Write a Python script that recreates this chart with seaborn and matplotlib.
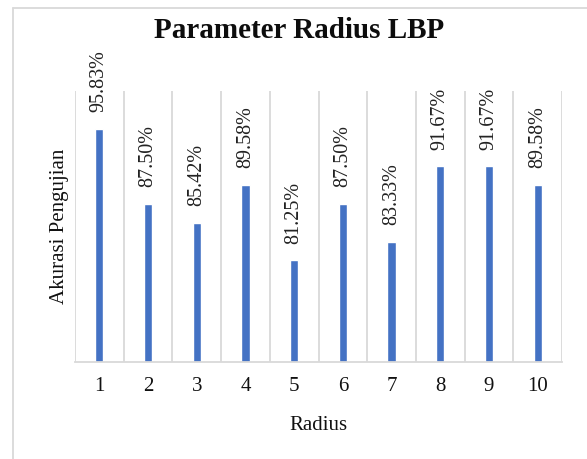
import matplotlib
matplotlib.use('Agg')
import matplotlib.pyplot as plt
from matplotlib.lines import Line2D
import numpy as np
import pandas as pd
import seaborn as sns

radius = ['1', '2', '3', '4', '5', '6', '7', '8', '9', '10']
accuracy = [95.83, 87.50, 85.42, 89.58, 81.25, 87.50, 83.33, 91.67, 91.67, 89.58]

sns.set_theme(style='white')
plt.rcParams['font.family'] = ['Liberation Serif', 'DejaVu Serif']

W, H = 587, 459
fig = plt.figure(figsize=(W / 100, H / 100), dpi=100)
ax = fig.add_axes([75 / W, 1 - 362 / H, (562 - 75) / W, (362 - 91) / H])

df = pd.DataFrame({'radius': radius, 'accuracy': accuracy})
sns.barplot(data=df, x='radius', y='accuracy', order=radius, color='#4472C4',
            saturation=1, width=0.17, ax=ax)

ax.set_ylim(70, 100)
ax.set_xlim(-0.5, len(radius) - 0.5)
ax.set_yticks([])

# vertical separators between categories
ax.set_xticks(np.arange(-0.5, len(radius)), minor=True)
ax.grid(True, which='minor', axis='x', color='#d9d9d9', linewidth=1.3)
ax.grid(False, which='major')
ax.set_axisbelow(True)
ax.tick_params(axis='x', which='both', length=0)
ax.tick_params(axis='x', which='major', labelsize=15, pad=11, colors='#111111')

for side in ['top', 'left', 'right']:
    ax.spines[side].set_visible(False)
ax.spines['bottom'].set_color('#d9d9d9')
ax.spines['bottom'].set_linewidth(1.3)

for c in ax.containers:
    ax.bar_label(c, labels=['%.2f%%' % v for v in accuracy], rotation=90,
                 padding=12, fontsize=14.5, color='#222222')

ax.set_xlabel('Radius', fontsize=15, color='#111111')
ax.xaxis.set_label_coords(0.5, -0.2)
ax.set_ylabel('Akurasi Pengujian', fontsize=15, color='#111111')
ax.yaxis.set_label_coords(-0.012, 0.5)

fig.text(299 / W, 1 - 30 / H, 'Parameter Radius LBP', ha='center', va='center',
         fontsize=21, fontweight='bold', color='#0d0d0d')

# chart frame (only top and left edges visible in the crop)
fig.add_artist(Line2D([13 / W, 1], [1 - 7.7 / H, 1 - 7.7 / H], color='#d9d9d9', linewidth=1.3))
fig.add_artist(Line2D([13 / W, 13 / W], [0, 1 - 7.7 / H], color='#d9d9d9', linewidth=1.3))

fig.savefig('out.png', dpi=100)
